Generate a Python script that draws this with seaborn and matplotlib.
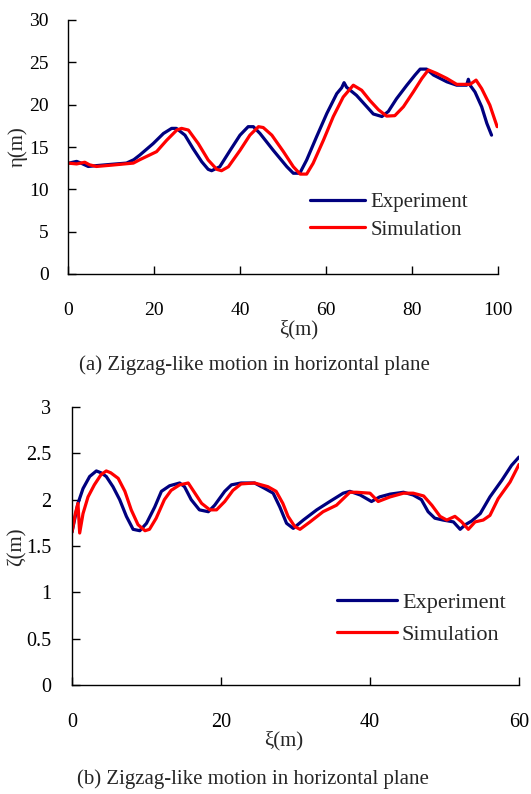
import matplotlib
matplotlib.use("Agg")
import matplotlib.pyplot as plt
from matplotlib.ticker import FuncFormatter
import seaborn as sns
import pandas as pd

# ---------------- data ----------------
top_exp_x = [0, 2, 3, 4.7, 6.6, 10, 13.6, 15.3, 16.7, 19.8, 22.2, 24.1, 25.2, 27.2, 29.1, 31.1,
             32.6, 33.4, 35.3, 37.7, 40.0, 41.9, 43.1, 44.65, 47.75, 50.9, 52.4, 53.9, 55.5,
             57.8, 60.2, 62.5, 63.65, 64.2, 64.8, 67.1, 69.5, 71.0, 73.0, 74.5, 76.4, 78.8,
             80.7, 81.9, 83.4, 85.0, 88.1, 90.4, 92.7, 93.1, 93.5, 94.65, 96.2, 97.4, 98.5]
top_exp_y = [13.07, 13.3, 13.1, 12.7, 12.8, 12.95, 13.1, 13.5, 14.05, 15.4, 16.6, 17.2, 17.2,
             16.4, 14.8, 13.26, 12.36, 12.2, 12.67, 14.6, 16.4, 17.4, 17.4, 16.6, 14.6, 12.67,
             11.9, 11.9, 13.46, 16.2, 18.97, 21.3, 22.0, 22.6, 22.05, 21.1, 19.75, 18.9, 18.6,
             19.2, 20.7, 22.3, 23.5, 24.2, 24.2, 23.5, 22.7, 22.3, 22.3, 23.0, 22.3, 21.5,
             19.75, 17.8, 16.4]
top_sim_x = [0, 2, 3.9, 5, 6.6, 10, 15.2, 16.7, 20.6, 22.95, 25.3, 26.4, 28.0, 30.3, 32.6,
             34.6, 35.7, 37.3, 40.0, 42.3, 44.3, 45.4, 47.4, 50.1, 52.4, 54.0, 55.5, 57.0, 59.4,
             61.7, 64.0, 66.35, 68.3, 70.2, 72.2, 74.1, 76.0, 78.0, 80.3, 82.3, 83.8, 85.7,
             88.1, 90.4, 93.5, 94.9, 96.2, 98.1, 99.8]
top_sim_y = [13.1, 13.0, 13.2, 12.9, 12.7, 12.85, 13.1, 13.5, 14.45, 15.8, 17.0, 17.2, 17.0,
             15.4, 13.46, 12.36, 12.2, 12.67, 14.6, 16.4, 17.4, 17.3, 16.4, 14.45, 12.67, 11.8,
             11.8, 13.07, 15.8, 18.6, 20.9, 22.3, 21.7, 20.5, 19.4, 18.65, 18.7, 19.75, 21.5,
             23.1, 24.1, 23.7, 23.1, 22.4, 22.4, 22.9, 21.9, 19.95, 17.4]

bot_exp_x = [0, 0.8, 1.48, 2.37, 3.27, 3.9, 4.6, 5.5, 6.4, 7.3, 8.2, 9.1, 10.0, 11.1, 12.0,
             13.1, 14.45, 15.1, 16.0, 17.1, 18.3, 19.15, 20.5, 21.4, 22.7, 24.5, 25.9, 27.0,
             27.9, 28.8, 29.7, 31.05, 32.85, 34.6, 36.4, 37.3, 38.7, 40.2, 41.3, 42.7, 44.5,
             45.8, 46.9, 47.8, 48.7, 49.8, 51.2, 52.1, 52.8, 53.65, 54.8, 56.1, 57.7, 59.0, 60.0]
bot_exp_y = [1.65, 1.96, 2.12, 2.25, 2.31, 2.29, 2.25, 2.14, 2.0, 1.82, 1.68, 1.665, 1.745,
             1.92, 2.09, 2.15, 2.18, 2.14, 2.0, 1.89, 1.87, 1.94, 2.09, 2.16, 2.18, 2.18, 2.12,
             2.07, 1.92, 1.745, 1.69, 1.78, 1.89, 1.98, 2.07, 2.09, 2.05, 1.98, 2.03, 2.06,
             2.08, 2.05, 2.0, 1.87, 1.80, 1.78, 1.76, 1.68, 1.73, 1.77, 1.85, 2.03, 2.21, 2.37,
             2.46]
bot_sim_x = [0, 0.45, 0.8, 1.03, 1.48, 2.15, 3.0, 3.9, 4.6, 5.2, 6.2, 7.1, 7.95, 8.86, 9.8,
             10.4, 11.3, 12.4, 13.3, 14.45, 15.6, 16.5, 17.4, 18.5, 19.4, 20.5, 21.6, 22.7,
             24.5, 26.3, 27.4, 28.3, 29.0, 29.9, 30.6, 31.95, 33.7, 35.5, 37.3, 38.2, 40.0,
             41.1, 42.7, 44.5, 45.8, 47.2, 48.3, 49.4, 50.3, 51.4, 52.3, 53.2, 54.1, 55.2,
             56.1, 57.2, 58.8, 60.0]
bot_sim_y = [1.65, 1.85, 1.96, 1.64, 1.85, 2.03, 2.16, 2.27, 2.31, 2.29, 2.23, 2.09, 1.89,
             1.73, 1.665, 1.68, 1.80, 2.0, 2.10, 2.16, 2.18, 2.07, 1.96, 1.89, 1.89, 1.98, 2.10,
             2.17, 2.18, 2.14, 2.09, 1.96, 1.82, 1.71, 1.68, 1.76, 1.87, 1.94, 2.08, 2.08, 2.07,
             1.98, 2.03, 2.07, 2.07, 2.04, 1.94, 1.82, 1.78, 1.82, 1.76, 1.68, 1.76, 1.78,
             1.83, 2.01, 2.19, 2.38]

series_labels = ["Experiment", "Simulation"]
top_xticks = [0, 20, 40, 60, 80, 100]
top_yticks = [0, 5, 10, 15, 20, 25, 30]
bot_xticks = [0, 20, 40, 60]
bot_yticks = [0, 0.5, 1, 1.5, 2, 2.5, 3]
caption_a = "(a) Zigzag-like motion in horizontal plane"
caption_b = "(b) Zigzag-like motion in horizontal plane"

# ---------------- style ----------------
sns.set_style("ticks")
plt.rcParams['font.family'] = ['Liberation Serif', 'DejaVu Serif']
plt.rcParams['axes.linewidth'] = 1.0

W, H = 531, 794
fig = plt.figure(figsize=(W / 100, H / 100), dpi=100)


def fx(x):
    return x / W


def fy(y):
    return 1 - y / H


BLUE = "#00007f"
RED = "#ff0000"


def make_axes(l, t, r, b):
    return fig.add_axes([fx(l), fy(b), fx(r) - fx(l), fy(t) - fy(b)])


def style_axes(ax, xlim, ylim, xticks, yticks, fs, xpad, ypad):
    ax.set_xlim(*xlim)
    ax.set_ylim(*ylim)
    ax.set_xticks(xticks)
    ax.set_yticks(yticks)
    ax.xaxis.set_major_formatter(FuncFormatter(lambda v, p: f"{v:g}"))
    ax.yaxis.set_major_formatter(FuncFormatter(lambda v, p: f"{v:g}"))
    for s in ["top", "right"]:
        ax.spines[s].set_visible(False)
    for s in ["left", "bottom"]:
        ax.spines[s].set_color("black")
        ax.spines[s].set_linewidth(1.0)
    ax.tick_params(axis="both", direction="in", length=6, width=1, colors="black",
                   labelsize=fs)
    ax.tick_params(axis="x", pad=xpad)
    ax.tick_params(axis="y", pad=ypad)
    ax.grid(False)
    ax.set_xlabel("")
    ax.set_ylabel("")


# ---- top panel ----
ax1 = make_axes(68, 20, 498, 274)
df_te = pd.DataFrame({"x": top_exp_x, "y": top_exp_y})
df_ts = pd.DataFrame({"x": top_sim_x, "y": top_sim_y})
sns.lineplot(data=df_te, x="x", y="y", ax=ax1, color=BLUE, linewidth=2.3,
             label=series_labels[0], sort=False, estimator=None)
sns.lineplot(data=df_ts, x="x", y="y", ax=ax1, color=RED, linewidth=2.3,
             label=series_labels[1], sort=False, estimator=None)
style_axes(ax1, (0, 100), (0, 30), top_xticks, top_yticks, 14, 20, 14)
ax1.legend(loc="center left", bbox_to_anchor=(fx(310), fy(216)),
           bbox_transform=fig.transFigure, frameon=False, fontsize=15,
           handlelength=2.65, handletextpad=0.25, labelspacing=0.4,
           borderpad=0, borderaxespad=0)

# ---- bottom panel ----
ax2 = make_axes(72, 407, 519, 685)
df_be = pd.DataFrame({"x": bot_exp_x, "y": bot_exp_y})
df_bs = pd.DataFrame({"x": bot_sim_x, "y": bot_sim_y})
sns.lineplot(data=df_be, x="x", y="y", ax=ax2, color=BLUE, linewidth=2.3,
             label=series_labels[0], sort=False, estimator=None)
sns.lineplot(data=df_bs, x="x", y="y", ax=ax2, color=RED, linewidth=2.3,
             label=series_labels[1], sort=False, estimator=None)
style_axes(ax2, (0, 60), (0, 3), bot_xticks, bot_yticks, 14.5, 20, 15)
ax2.legend(loc="center left", bbox_to_anchor=(fx(337), fy(618.5)),
           bbox_transform=fig.transFigure, frameon=False, fontsize=16,
           handlelength=2.7, handletextpad=0.22, labelspacing=0.5,
           borderpad=0, borderaxespad=0)

# ---- axis labels and captions ----
fig.text(fx(18), fy(147), "η(m)", rotation=90, ha="center", va="center", fontsize=15)
fig.text(fx(299), fy(330), "ξ(m)", ha="center", va="center", fontsize=15)
fig.text(fx(254), fy(365), caption_a, ha="center", va="center", fontsize=15)

fig.text(fx(17), fy(547), "ζ(m)", rotation=90, ha="center", va="center", fontsize=15)
fig.text(fx(284), fy(741), "ξ(m)", ha="center", va="center", fontsize=15)
fig.text(fx(253), fy(779), caption_b, ha="center", va="center", fontsize=15)

fig.savefig("out.png", dpi=100)
